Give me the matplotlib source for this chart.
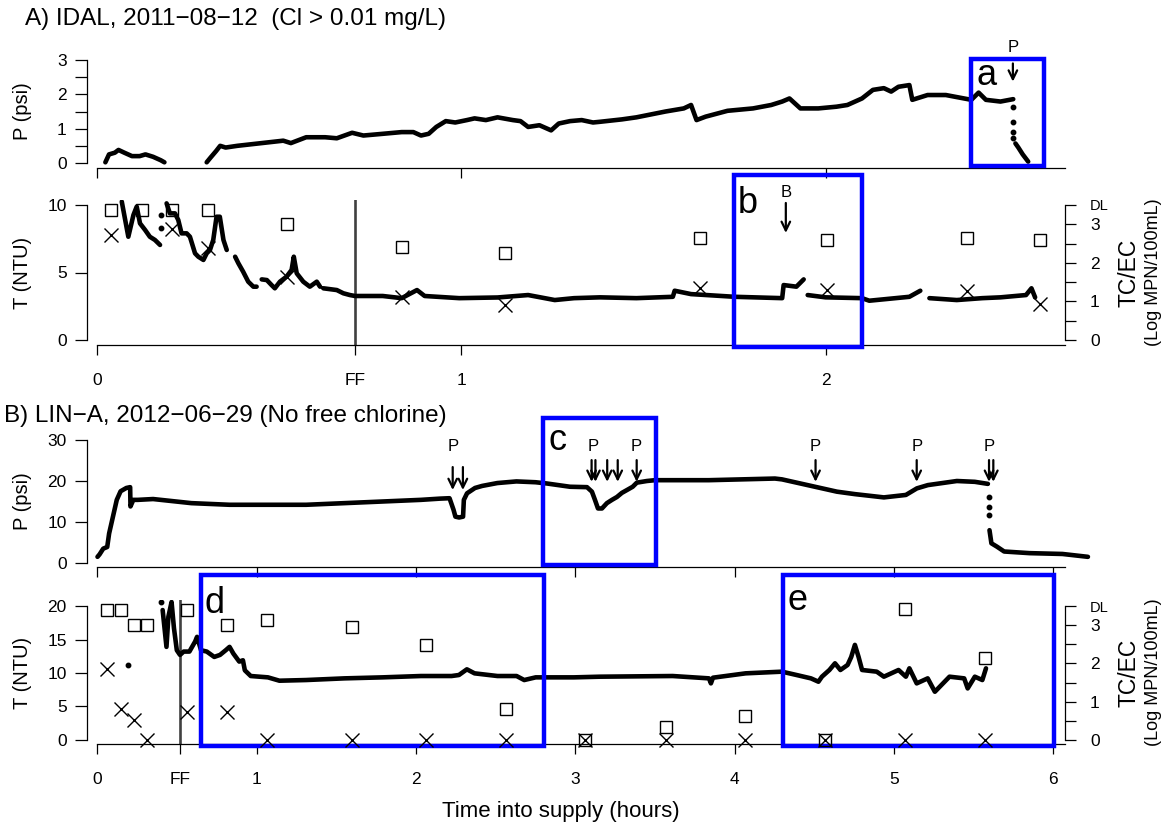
import numpy as np
import matplotlib.pyplot as plt
from matplotlib.patches import Rectangle

plt.rcParams['font.family'] = ['Liberation Sans', 'DejaVu Sans']

# ---------------- A) IDAL ----------------
a_p_time = [0.023, 0.033, 0.049, 0.059, 0.075, 0.096, 0.117, 0.133, 0.154, 0.175, 0.185, None,
            0.301, 0.311, 0.327, 0.338, 0.353, 0.385, 0.427, 0.469, 0.511, 0.532,
            0.574, 0.626, 0.658, 0.700, 0.731, 0.784, 0.836, 0.868, 0.889, 0.910,
            0.931, 0.957, 0.983, 1.015, 1.036, 1.067, 1.099, 1.141, 1.162, 1.183,
            1.214, 1.246, 1.267, 1.298, 1.330, 1.361, 1.380, 1.440, 1.480, 1.560,
            1.610, 1.630, 1.645, 1.670, 1.730, 1.800, 1.850, 1.880, 1.900, 1.930,
            1.979, 2.029, 2.059, 2.099, 2.129, 2.159, 2.179, 2.199, 2.229, 2.237,
            2.279, 2.329, 2.379, 2.399, 2.419, 2.439, 2.479, 2.514]
a_p_psi = [0.02, 0.25, 0.30, 0.38, 0.30, 0.20, 0.20, 0.25, 0.18, 0.08, 0.02, None,
           0.02, 0.15, 0.35, 0.50, 0.45, 0.50, 0.55, 0.60, 0.65, 0.58,
           0.75, 0.75, 0.72, 0.88, 0.80, 0.85, 0.90, 0.90, 0.80, 0.85,
           1.05, 1.22, 1.18, 1.25, 1.30, 1.25, 1.33, 1.25, 1.22, 1.05,
           1.10, 0.95, 1.15, 1.22, 1.25, 1.18, 1.20, 1.27, 1.33, 1.50,
           1.59, 1.69, 1.25, 1.35, 1.52, 1.59, 1.69, 1.79, 1.88, 1.59,
           1.59, 1.64, 1.69, 1.88, 2.13, 2.18, 2.08, 2.22, 2.27, 1.84,
           1.98, 1.98, 1.88, 1.84, 2.05, 1.84, 1.79, 1.86]
a_drop_time = [2.514, 2.514, 2.514, 2.514]
a_drop_psi = [1.64, 1.20, 0.91, 0.72]
a_tail_time = [2.520, 2.528, 2.540, 2.555]
a_tail_psi = [0.57, 0.45, 0.25, 0.04]

a_t_time = [0.068, 0.086, 0.100, 0.109, 0.118, 0.132, 0.145, 0.159, 0.173, None,
            0.191, 0.200, 0.214, 0.223, 0.232, 0.246, 0.255, 0.269, 0.278, 0.292,
            0.301, 0.310, 0.319, 0.328, 0.337, 0.347, 0.356, None,
            0.379, 0.388, 0.401, 0.415, 0.429, 0.438, None,
            0.452, 0.466, 0.479, 0.488, 0.502, 0.520, 0.534, 0.540, 0.548, 0.566,
            0.584, 0.603, 0.612, None,
            0.621, 0.658, 0.676, 0.694, 0.708, 0.784, 0.836, 0.878, 0.899, 0.994,
            1.099, 1.183, 1.256, 1.309, 1.380, 1.480, 1.580, 1.585, 1.630, 1.750,
            1.880, 1.884, 1.919, 1.939, None,
            1.950, 1.999, 2.099, 2.119, 2.229, 2.259, None,
            2.284, 2.359, 2.429, 2.479, 2.549, 2.564, 2.574]
a_t_ntu = [10.25, 7.65, 9.26, 9.88, 8.64, 8.15, 7.65, 7.41, 7.04, None,
           10.12, 9.38, 9.38, 8.89, 7.90, 7.90, 7.65, 6.42, 6.17, 5.93,
           6.42, 6.67, 7.41, 9.13, 9.13, 7.41, 6.67, None,
           6.17, 5.68, 5.06, 4.32, 3.95, 3.95, None,
           4.49, 4.44, 4.07, 3.83, 4.32, 4.69, 5.19, 6.17, 4.94, 4.32,
           3.95, 4.32, 3.95, None,
           3.83, 3.70, 3.46, 3.33, 3.26, 3.26, 3.10, 3.70, 3.26, 3.10,
           3.15, 3.33, 2.96, 3.10, 3.16, 3.10, 3.20, 3.65, 3.40, 3.20,
           3.10, 4.07, 3.95, 4.49, None,
           3.33, 3.16, 3.10, 2.91, 3.20, 3.65, None,
           3.10, 2.96, 3.10, 3.16, 3.33, 3.83, 3.16]
a_t_dots_time = [0.177, 0.177]
a_t_dots_ntu = [9.26, 8.27]

a_sample_time = [0.038, 0.123, 0.206, 0.305, 0.521, 0.837, 1.119, 1.654, 2.003, 2.387, 2.587]
a_tc_log = [3.37, 3.37, 3.37, 3.37, 3.02, 2.42, 2.25, 2.64, 2.58, 2.64, 2.59]
a_ec_log = [2.72, None, 2.87, 2.38, 1.63, 1.12, 0.91, 1.35, 1.30, 1.27, 0.93]

a_ff = 0.708
a_xticks = [0, a_ff, 1, 2]
a_xlabels = ['0', 'FF', '1', '2']

# ---------------- B) LIN-A ----------------
b_p_time = [0.0, 0.013, 0.036, 0.061, 0.073, 0.097, 0.121, 0.145, 0.181, 0.205,
            0.207, 0.225, 0.253, 0.349, 0.589, 0.829, 1.07, 1.31, 1.55, 1.79,
            2.03, 2.15, 2.21, 2.235, 2.247, 2.27, 2.295, 2.30, 2.32, 2.37,
            2.415, 2.51, 2.63, 2.75, 2.82, 2.966, 3.073, 3.104, 3.123, 3.142,
            3.167, 3.198, 3.23, 3.261, 3.292, 3.324, 3.36, 3.386, 3.449, 3.5,
            3.838, 4.253, 4.297, 4.504, 4.642, 4.755, 4.937, 5.075, 5.144, 5.213,
            5.395, 5.508, 5.59]
b_p_psi = [1.5, 2.1, 3.5, 3.9, 7.2, 11.3, 15.4, 17.5, 18.3, 18.5,
           13.8, 15.4, 15.4, 15.6, 14.6, 14.2, 14.2, 14.2, 14.6, 15.0,
           15.4, 15.7, 15.8, 13.0, 11.3, 11.1, 11.3, 15.4, 17.0, 18.3,
           18.8, 19.5, 19.9, 19.7, 19.4, 18.6, 18.5, 17.4, 15.4, 13.3,
           13.3, 14.6, 15.4, 16.1, 17.1, 17.8, 18.6, 19.6, 20.0, 20.2,
           20.2, 20.6, 20.4, 18.6, 17.4, 16.8, 16.0, 16.6, 18.2, 19.0,
           20.0, 19.8, 19.3]
b_drop_time = [5.597, 5.597, 5.597]
b_drop_psi = [16.2, 13.7, 11.7]
b_tail_time = [5.600, 5.606, 5.612, 5.646, 5.692, 5.852, 6.058, 6.218]
b_tail_psi = [8.0, 6.4, 4.8, 4.0, 2.8, 2.4, 2.2, 1.5]

b_t_time = [0.409, 0.433, 0.445, 0.465, 0.480, 0.498, 0.518, 0.541, 0.577, 0.613,
            0.625, 0.650, 0.686, 0.733, 0.769, 0.805, 0.829, 0.853, 0.890, 0.913,
            0.925, 0.962, 1.070, 1.142, 1.309, 1.550, 1.790, 2.031, 2.223, 2.269,
            2.319, 2.367, 2.511, 2.631, 2.679, 2.751, 2.991, 3.154, 3.611, 3.839,
            3.851, 3.864, 4.069, 4.297, 4.389, 4.479, 4.526, 4.548, 4.595, 4.630,
            4.664, 4.709, 4.732, 4.755, 4.778, 4.800, 4.892, 4.937, 5.029, 5.075,
            5.097, 5.143, 5.212, 5.257, 5.349, 5.441, 5.463, 5.508, 5.555, 5.578]
b_t_ntu = [19.4, 13.9, 18.4, 20.6, 16.7, 13.4, 12.7, 13.2, 13.2, 14.7,
           15.4, 13.4, 13.2, 12.4, 12.7, 13.4, 13.9, 12.9, 11.7, 11.9,
           10.4, 9.55, 9.35, 8.85, 8.95, 9.2, 9.35, 9.55, 9.55, 9.7,
           10.55, 9.95, 9.55, 9.55, 8.95, 9.35, 9.35, 9.45, 9.55, 9.2,
           8.45, 9.3, 9.95, 10.2, 9.7, 9.2, 8.7, 9.45, 10.45, 11.45,
           10.45, 11.2, 12.4, 14.2, 12.4, 10.45, 10.2, 9.45, 10.45, 9.45,
           10.7, 8.45, 9.2, 7.2, 9.45, 9.2, 7.7, 9.45, 8.95, 10.7]
b_t_dots_time = [0.192, 0.397]
b_t_dots_ntu = [11.2, 20.6]

b_sample_time = [0.061, 0.145, 0.229, 0.308, 0.560, 0.812, 1.065, 1.598,
                 2.062, 2.564, 3.063, 3.566, 4.065, 4.567, 5.070, 5.573]
b_tc_log = [3.40, 3.40, 3.01, 3.01, 3.40, 3.01, 3.13, 2.94, 2.49, 0.80, 0.0, 0.33, 0.63, 0.0, 3.41, 2.15]
b_ec_log = [1.85, 0.80, 0.51, 0.0, 0.72, 0.72, 0.0, 0.0, 0.0, 0.0, 0.0, 0.0, 0.0, 0.0, 0.0, 0.0]

b_ff = 0.518
b_xticks = [0, b_ff, 1, 2, 3, 4, 5, 6]
b_xlabels = ['0', 'FF', '1', '2', '3', '4', '5', '6']

# event arrows (time, arrow top, arrow tip) and labels
a_p_arrow = [(2.513, 2.90, 2.37)]
a_p_label = [(2.513, 3.37, 'P')]
a_b_arrow = [(1.89, 10.15, 7.93)]
a_b_label = [(1.89, 10.96, 'B')]
b_arrow_time = [2.230, 2.294, 3.102, 3.126, 3.200, 3.266, 3.385, 4.508, 5.143, 5.597, 5.624]
b_arrow_top = [23.4, 23.4, 25.1, 25.1, 25.1, 25.1, 25.1, 25.1, 25.1, 25.1, 25.1]
b_arrow_tip = [17.8, 17.8, 19.8, 19.8, 19.8, 19.8, 19.8, 19.8, 19.8, 19.8, 19.8]
b_label_time = [2.235, 3.11, 3.38, 4.508, 5.143, 5.60]

# highlighted windows: (t0, t1, y0, y1, letter, letter x, letter y)
a_boxes_p = [(2.399, 2.598, -0.087, 3.04, 'a', 2.412, 2.27)]
a_boxes_t = [(1.749, 2.098, -0.5, 12.24, 'b', 1.759, 9.41)]
b_boxes_p = [(2.798, 3.504, -0.4, 35.4, 'c', 2.834, 27.6)]
b_boxes_t = [(0.649, 2.802, -0.85, 24.6, 'd', 0.669, 18.96),
             (4.304, 6.008, -0.85, 24.6, 'e', 4.33, 19.4)]

W, H = 1171, 825


def arr(v):
    return np.array([np.nan if x is None else x for x in v], dtype=float)


def pos(l, t, r, b):
    return [l / W, 1 - b / H, (r - l) / W, (b - t) / H]


def fx(x):
    return x / W


def fy(y):
    return 1 - y / H


fig = plt.figure(figsize=(W / 100, H / 100), dpi=100)

axAP = fig.add_axes(pos(87, 56, 1065, 168))
axAT = fig.add_axes(pos(87, 200, 1065, 345))
axBP = fig.add_axes(pos(87, 436, 1065, 567))
axBT = fig.add_axes(pos(87, 600, 1065, 744))

a_xlim = (-0.0274, 2.656)
b_xlim = (-0.0659, 6.074)


def style(ax, xlim, ylim, yticks, ylabels, xticks, xlabels):
    ax.set_xlim(xlim)
    ax.set_ylim(ylim)
    ax.patch.set_visible(False)
    ax.spines['top'].set_visible(False)
    ax.spines['right'].set_visible(False)
    ax.spines['left'].set_bounds(yticks[0], yticks[-1])
    ax.spines['bottom'].set_bounds(0, xlim[1])
    for s in ('left', 'bottom'):
        ax.spines[s].set_linewidth(0.9)
    ax.set_yticks(yticks)
    ax.set_yticklabels(ylabels)
    ax.set_xticks(xticks)
    ax.set_xticklabels(xlabels)
    ax.tick_params(axis='y', direction='out', length=8.5, width=0.9, pad=6, labelsize=12.5)
    ax.tick_params(axis='x', direction='out', length=7.5, width=0.9, pad=13, labelsize=12.5)


def right_axis(ax, scale):
    ax2 = ax.twinx()
    lo, hi = ax.get_ylim()
    ax2.set_ylim(lo * scale, hi * scale)
    for s in ('top', 'left', 'bottom'):
        ax2.spines[s].set_visible(False)
    ax2.spines['right'].set_bounds(0, 3.5)
    ax2.spines['right'].set_linewidth(0.9)
    ax2.set_yticks([0, 0.5, 1, 1.5, 2, 2.5, 3, 3.5])
    ax2.set_yticklabels(['0', '', '1', '', '2', '', '3', 'DL'])
    ax2.tick_params(axis='y', direction='out', length=8, width=0.9, pad=10, labelsize=12.5)
    ax2.get_yticklabels()[-1].set_fontsize(10.5)
    return ax2


trace = dict(color='black', lw=3.3, solid_capstyle='round', solid_joinstyle='round')
dots = dict(color='black', ls='none', marker='o', ms=3.2)
sq = dict(ls='none', marker='s', ms=8.3, mfc='none', mec='black', mew=1.0, clip_on=False)
ex = dict(ls='none', marker='x', ms=9.5, color='black', mew=1.0, clip_on=False)
arrow_kw = dict(arrowstyle='->,head_length=0.45,head_width=0.22', lw=1.6, color='black',
                shrinkA=0, shrinkB=0, mutation_scale=14)


def draw_boxes(ax, boxes):
    for t0, t1, y0, y1, letter, lx, ly in boxes:
        ax.add_patch(Rectangle((t0, y0), t1 - t0, y1 - y0, fill=False, edgecolor='#0000ff',
                               lw=3.2, clip_on=False, zorder=5))
        ax.text(lx, ly, letter, fontsize=26, ha='left', va='baseline', zorder=6)


# ----- A top: pressure
style(axAP, a_xlim, (-0.146, 3.117), [0, 0.5, 1, 1.5, 2, 2.5, 3],
      ['0', '', '1', '', '2', '', '3'], [0, 1, 2], ['', '', ''])
axAP.plot(arr(a_p_time), arr(a_p_psi), **trace)
axAP.plot(a_drop_time, a_drop_psi, **dots)
axAP.plot(a_tail_time, a_tail_psi, **trace)
for t, y0, y1 in a_p_arrow:
    axAP.annotate('', xy=(t, y1), xytext=(t, y0), arrowprops=arrow_kw, annotation_clip=False)
for t, y, s in a_p_label:
    axAP.text(t, y, s, ha='center', va='center', fontsize=12)
draw_boxes(axAP, a_boxes_p)

# ----- A bottom: turbidity + TC/EC
style(axAT, a_xlim, (-0.37, 10.37), [0, 5, 10], ['0', '5', '10'], a_xticks, a_xlabels)
axAT.axvline(a_ff, color='#404040', lw=1.9)
axAT.plot(arr(a_t_time), arr(a_t_ntu), **trace)
axAT.plot(a_t_dots_time, a_t_dots_ntu, **dots)
axAT2 = right_axis(axAT, 0.35)
axAT2.plot(a_sample_time, a_tc_log, **sq)
axAT2.plot(a_sample_time, arr(a_ec_log), **ex)
for t, y0, y1 in a_b_arrow:
    axAT.annotate('', xy=(t, y1), xytext=(t, y0), arrowprops=arrow_kw, annotation_clip=False)
for t, y, s in a_b_label:
    axAT.text(t, y, s, ha='center', va='center', fontsize=12)
draw_boxes(axAT, a_boxes_t)

# ----- B top: pressure
style(axBP, b_xlim, (-0.98, 30.98), [0, 10, 20, 30], ['0', '10', '20', '30'],
      [0, 1, 2, 3, 4, 5, 6], [''] * 7)
axBP.plot(b_p_time, b_p_psi, **trace)
axBP.plot(b_drop_time, b_drop_psi, **dots)
axBP.plot(b_tail_time, b_tail_psi, clip_on=False, **trace)
for t, y0, y1 in zip(b_arrow_time, b_arrow_top, b_arrow_tip):
    axBP.annotate('', xy=(t, y1), xytext=(t, y0), arrowprops=arrow_kw, annotation_clip=False)
for t in b_label_time:
    axBP.text(t, 28.4, 'P', ha='center', va='center', fontsize=12)
draw_boxes(axBP, b_boxes_p)

# ----- B bottom: turbidity + TC/EC
style(axBT, b_xlim, (-0.6, 20.9), [0, 5, 10, 15, 20], ['0', '5', '10', '15', '20'],
      b_xticks, b_xlabels)
axBT.axvline(b_ff, color='#404040', lw=1.9)
axBT.plot(b_t_time, b_t_ntu, **trace)
axBT.plot(b_t_dots_time, b_t_dots_ntu, **dots)
axBT2 = right_axis(axBT, 0.175)
axBT2.plot(b_sample_time, b_tc_log, **sq)
axBT2.plot(b_sample_time, b_ec_log, **ex)
draw_boxes(axBT, b_boxes_t)

# ----- texts
fig.text(fx(25), fy(19), 'A) IDAL, 2011\u221208\u221212  (Cl > 0.01 mg/L)', fontsize=17.5,
         ha='left', va='center')
fig.text(fx(4), fy(416), 'B) LIN\u2212A, 2012\u221206\u221229 (No free chlorine)', fontsize=17.5,
         ha='left', va='center')
for y, s in [(111.5, 'P (psi)'), (272.5, 'T (NTU)'), (501.5, 'P (psi)'), (673, 'T (NTU)')]:
    fig.text(fx(23), fy(y), s, rotation=90, fontsize=14.5, ha='center', va='center')
for y in (272.5, 672.5):
    fig.text(fx(1129), fy(y), 'TC/EC', rotation=90, fontsize=16.5, ha='center', va='center')
    fig.text(fx(1154), fy(y), '(Log MPN/100mL)', rotation=90, fontsize=13, ha='center', va='center')
fig.text(fx(561), fy(812), 'Time into supply (hours)', fontsize=16, ha='center', va='center')

fig.savefig('out.png', dpi=100)
